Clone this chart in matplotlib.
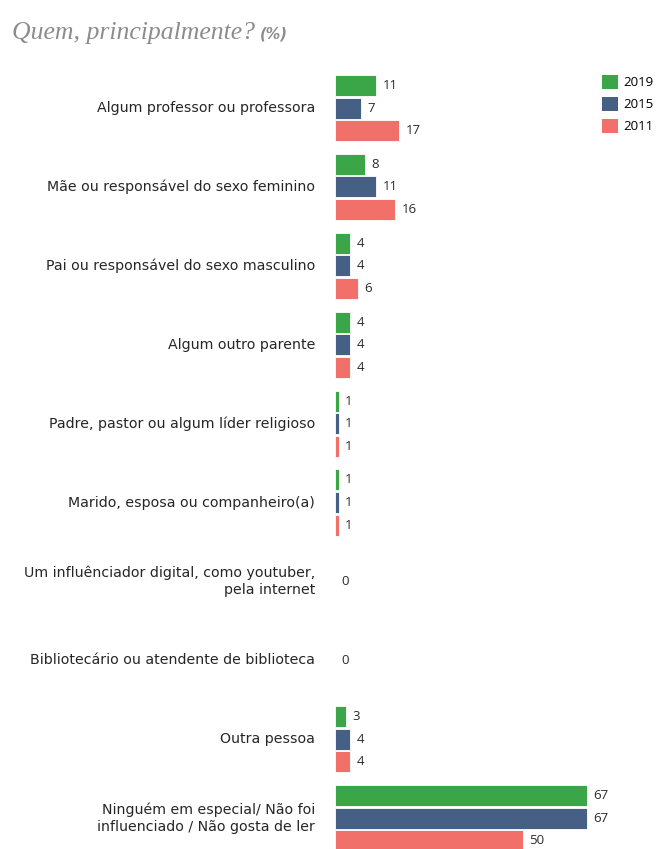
import matplotlib
matplotlib.use("Agg")
import matplotlib.pyplot as plt
from matplotlib.patches import Patch

# data
categories = [
    "Algum professor ou professora",
    "Mãe ou responsável do sexo feminino",
    "Pai ou responsável do sexo masculino",
    "Algum outro parente",
    "Padre, pastor ou algum líder religioso",
    "Marido, esposa ou companheiro(a)",
    "Um influênciador digital, como youtuber,\npela internet",
    "Bibliotecário ou atendente de biblioteca",
    "Outra pessoa",
    "Ninguém em especial/ Não foi\ninfluenciado / Não gosta de ler",
]
years = ["2019", "2015", "2011"]
v2019 = [11, 8, 4, 4, 1, 1, 0, 0, 3, 67]
v2015 = [7, 11, 4, 4, 1, 1, 0, 0, 4, 67]
v2011 = [17, 16, 6, 4, 1, 1, 0, 0, 4, 50]
colors = ["#3aa648", "#456084", "#f2706a"]

W, H = 660, 849
fig = plt.figure(figsize=(W / 100, H / 100), dpi=100)
x0 = 335
ax = fig.add_axes([x0 / W, 0, (W - x0) / W, 1])
ax.set_xlim(0, (W - x0) / 3.76)
ax.set_ylim(H, 0)  # y in pixel units from the top
ax.axis("off")

first = 108
pitch = 78.9
bar_step = 22.6
bar_h = 21

series = [v2019, v2015, v2011]
for i, cat in enumerate(categories):
    yc = first + pitch * i
    zero_row = all(s[i] == 0 for s in series)
    for k, vals in enumerate(series):
        y = yc + (k - 1) * bar_step
        if zero_row:
            continue
        ax.barh(y, vals[i], height=bar_h, color=colors[k],
                edgecolor="white", linewidth=0.6)
        ax.text(vals[i] + 1.7, y, str(vals[i]), ha="left", va="center",
                fontsize=9.5, color="#2b2b2b", family="Open Sans")
    if zero_row:
        ax.text(1.7, yc, "0", ha="left", va="center",
                fontsize=9.5, color="#2b2b2b", family="Open Sans")
    fig.text(315 / W, 1 - yc / H, cat, ha="right", va="center",
             fontsize=10.2, color="#262626", family="DejaVu Sans",
             linespacing=1.3)

title = fig.text(12 / W, 1 - 33 / H, "Quem, principalmente?", ha="left",
                 va="center", fontsize=18.5, style="italic", color="#8c8c8c",
                 family="Liberation Serif")
fig.canvas.draw()
bb = title.get_window_extent()
fig.text((bb.x1 + 5) / W, 1 - 34 / H, "(%)", ha="left", va="center",
         fontsize=10.5, style="italic", weight="bold", color="#8c8c8c",
         family="DejaVu Sans")

handles = [Patch(facecolor=c, label=y) for c, y in zip(colors, years)]
fig.legend(handles=handles, loc="upper left",
           bbox_to_anchor=(602 / W, 1 - 75 / H), frameon=False,
           borderpad=0, borderaxespad=0,
           handlelength=1.2, handleheight=1.2, handletextpad=0.4,
           labelspacing=0.6, prop={"family": "Open Sans", "size": 9.5})

fig.savefig("out.png", dpi=100)
